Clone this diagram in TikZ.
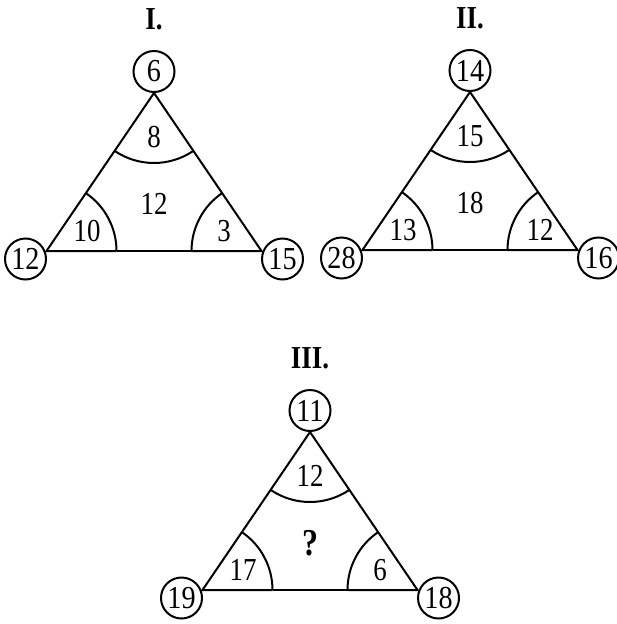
\documentclass[tikz,border=0pt]{standalone}
\usepackage{fontspec}
\setmainfont{Liberation Serif}
\newfontfamily\narrowfont[FakeStretch=0.84]{Liberation Serif}
\newfontfamily\circfont[FakeStretch=0.88]{Liberation Serif}
\usetikzlibrary{calc}
\newcommand\puzzletri[9]{%
  % #1 prefix, #2 title, #3 top, #4 left, #5 right, #6 top label, #7 centre, #8 left label, #9 right label
  \coordinate (#1A) at (0,0);
  \coordinate (#1L) at (-107.5,158);
  \coordinate (#1R) at (107.5,158);
  \node[ttl] (#1t) at (0,-74) {#2};
  \node[vert] (#1ct) at (0,-21.5) {#3};
  \node[vert] (#1cl) at (-128.5,166) {#4};
  \node[vert] (#1cr) at (128.5,166) {#5};
  \draw[edge] (#1A) -- (#1L) -- ($(#1L)+(70,0)$);
  \draw[edge] ($(#1R)+(-70,0)$) -- (#1R) -- (#1A);
  \draw[edge,line width=2.8pt] ($(#1L)+(70,0)$) -- ($(#1R)+(-70,0)$);
  \draw[edge] ($(#1A)!70pt!(#1L)$) arc[start angle=124.23, end angle=55.77, radius=70];
  \draw[edge] ($(#1L)!70pt!(#1A)$) arc[start angle=-55.77, end angle=0, radius=70];
  \draw[edge] ($(#1R)+(-70,0)$) arc[start angle=180, end angle=235.77, radius=70];
  \node[num] (#1lt) at (0,44) {#6};
  \node[num] (#1lc) at (0,111) {#7};
  \node[num] (#1ll) at (-67,138) {#8};
  \node[num] (#1lr) at (70,138) {#9};
}
\begin{document}
\begin{tikzpicture}[x=1pt,y=-1pt,
  edge/.style={line width=2pt},
  vert/.style={circle,draw,line width=2pt,inner sep=0pt,minimum size=41pt,font=\circfont\fontsize{32}{32}\selectfont},
  num/.style={inner sep=0pt,font=\narrowfont\fontsize{32}{32}\selectfont},
  ttl/.style={inner sep=0pt,font=\narrowfont\bfseries\fontsize{32}{32}\selectfont}]
\useasboundingbox (0,0) rectangle (616,624);
\begin{scope}[shift={(154,93)}]
  \puzzletri{a}{I.}{6}{12}{15}{8}{12}{10}{3}
\end{scope}
\begin{scope}[shift={(470,92)}]
  \puzzletri{b}{II.}{14}{28}{16}{15}{18}{13}{12}
\end{scope}
\begin{scope}[shift={(310,432)}]
  \puzzletri{c}{III.}{11}{19}{18}{12}{\bfseries\fontsize{38}{38}\selectfont ?}{17}{6}
\end{scope}
\end{tikzpicture}
\end{document}
